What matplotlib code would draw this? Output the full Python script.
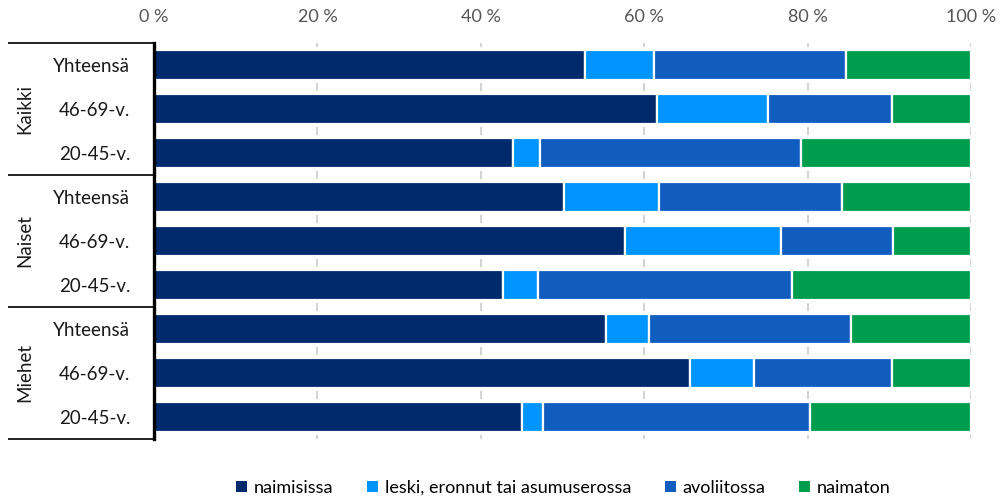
import matplotlib.pyplot as plt
from matplotlib.patches import Patch
import numpy as np

plt.rcParams['font.family'] = ['Lato', 'DejaVu Sans']
plt.rcParams['lines.scale_dashes'] = False

groups = ['Kaikki', 'Naiset', 'Miehet']
ages = ['Yhteensä', '46-69-v.', '20-45-v.']
series = ['naimisissa', 'leski, eronnut tai asumuserossa', 'avoliitossa', 'naimaton']
colors = ['#002a6c', '#0094ff', '#115cbf', '#009e4c']

# shares in %, rows in order Kaikki/Naiset/Miehet x Yhteensä/46-69/20-45
naimisissa = [52.8, 61.6, 43.9, 50.2, 57.7, 42.7, 55.3, 65.6, 45.0]
leski = [8.4, 13.5, 3.3, 11.6, 19.0, 4.3, 5.3, 7.9, 2.6]
avoliitossa = [23.5, 15.2, 32.0, 22.4, 13.7, 31.1, 24.7, 16.8, 32.7]
naimaton = [15.3, 9.7, 20.8, 15.8, 9.6, 21.9, 14.7, 9.7, 19.7]

values = np.array([naimisissa, leski, avoliitossa, naimaton])
n = values.shape[1]
ypos = np.arange(n)[::-1]  # first row on top

fig = plt.figure(figsize=(10.06, 4.97), dpi=100)
ax = fig.add_axes([0.1531, 0.1167, 0.8121, 0.7968])

left = np.zeros(n)
for vals, col in zip(values, colors):
    ax.barh(ypos, vals, left=left, height=0.66, color=col,
            edgecolor='white', linewidth=1.6, zorder=3)
    left += vals

ax.set_xlim(0, 100)
ax.set_ylim(-0.5, n - 0.5)
ax.set_xticks(np.arange(0, 101, 20))
ax.set_xticklabels([f'{v} %' for v in range(0, 101, 20)])
ax.xaxis.tick_top()
ax.tick_params(axis='x', length=0, pad=13, labelsize=13, labelcolor='#555555')
ax.grid(axis='x', color='#d4d4d4', linewidth=1.5,
        linestyle=(2.9, (5.8, 25.88)), zorder=0)

ax.set_yticks(ypos)
ax.set_yticklabels(ages * len(groups))
ax.tick_params(axis='y', length=0, pad=17, labelsize=13.5, labelcolor='#1a1a1a')

for s in ['top', 'right', 'bottom']:
    ax.spines[s].set_visible(False)
ax.spines['left'].set_linewidth(2.4)
ax.spines['left'].set_color('black')
ax.spines['left'].set_zorder(5)

# group separators and labels on the left
trans = ax.get_yaxis_transform()
for g, name in enumerate(groups):
    top = n - 0.5 - 3 * g
    ax.plot([-0.178, 0], [top, top], color='#222222', lw=1.4,
            transform=trans, clip_on=False)
    ax.text(-0.158, top - 1.5, name, rotation=90, ha='center', va='center',
            fontsize=13.5, color='#1a1a1a', transform=trans)
ax.plot([-0.178, 0], [-0.5, -0.5], color='#222222', lw=1.4,
        transform=trans, clip_on=False)

handles = [Patch(facecolor=c, edgecolor='none') for c in colors]
fig.legend(handles, series, loc='lower center', bbox_to_anchor=(0.56, -0.03),
           ncol=4, frameon=False, fontsize=13, handlelength=0.6,
           handleheight=0.6, handletextpad=0.4, columnspacing=1.85)

fig.savefig('out.png', dpi=100)
